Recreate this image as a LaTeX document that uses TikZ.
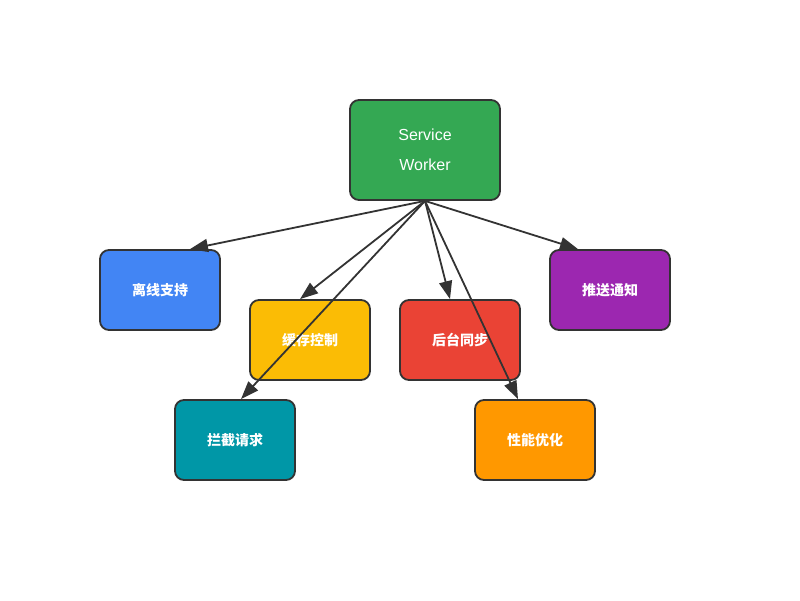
\documentclass[tikz,border=0pt]{standalone}
\usepackage{fontspec}
\setmainfont{Liberation Sans}
\newfontfamily\cjk{Noto Sans CJK SC}
\usetikzlibrary{arrows.meta}
\definecolor{edge}{HTML}{333333}
\definecolor{cgreen}{HTML}{34A853}
\definecolor{cblue}{HTML}{4285F4}
\definecolor{cyellow}{HTML}{FBBC05}
\definecolor{cred}{HTML}{EA4335}
\definecolor{cpurple}{HTML}{9C27B0}
\definecolor{cteal}{HTML}{0097A7}
\definecolor{corange}{HTML}{FF9800}
\tikzset{
  box/.style={draw=edge, line width=1.8pt, rounded corners=9pt, text=white,
    minimum width=120pt, minimum height=80pt, inner sep=0pt, align=center,
    font=\cjk\bfseries\fontsize{14}{16}\selectfont},
  link/.style={draw=edge, line width=1.8pt, -{Triangle[length=18pt,width=13pt]}}
}
\begin{document}
\begin{tikzpicture}[x=1pt,y=-1pt]
\useasboundingbox (0,0) rectangle (800,600);
\node[box, fill=cgreen, minimum width=150pt, minimum height=100pt,
  font=\fontsize{16}{30}\selectfont] (sw) at (425,150) {Service\\Worker};
\node[box, fill=cblue] (off) at (160,290) {离线支持};
\node[box, fill=cyellow] (cache) at (310,340) {缓存控制};
\node[box, fill=cred] (sync) at (460,340) {后台同步};
\node[box, fill=cpurple] (push) at (610,290) {推送通知};
\node[box, fill=cteal] (intc) at (235,440) {拦截请求};
\node[box, fill=corange] (perf) at (535,440) {性能优化};
\coordinate (src) at (sw.south);
\coordinate (toff) at ([xshift=30pt]off.north);
\coordinate (tcache) at ([xshift=-10pt]cache.north);
\coordinate (tintc) at ([xshift=6pt]intc.north);
\coordinate (tsync) at ([xshift=-10pt]sync.north);
\coordinate (tpush) at ([xshift=-32pt]push.north);
\coordinate (tperf) at ([xshift=-17pt]perf.north);
\draw[link] (src) -- (toff);
\draw[link] (src) -- (tcache);
\draw[link] (src) -- (tintc);
\draw[link] (src) -- (tsync);
\draw[link] (src) -- (tpush);
\draw[link] (src) -- (tperf);
\end{tikzpicture}
\end{document}
